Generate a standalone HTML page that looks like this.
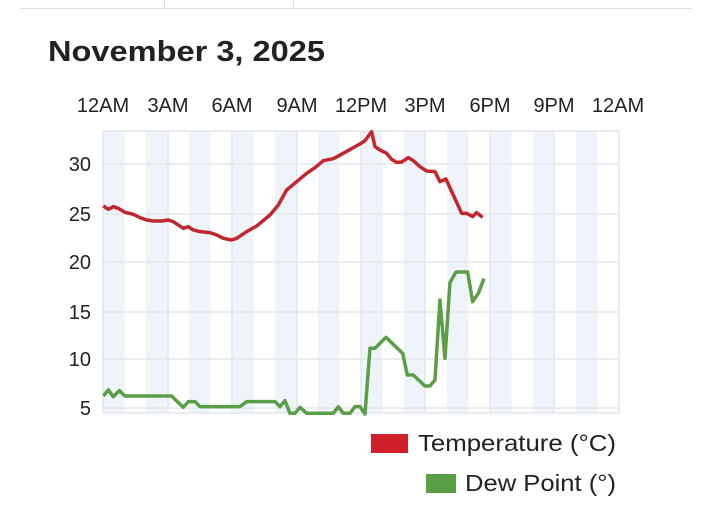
<!DOCTYPE html>
<html><head><meta charset="utf-8"><style>
body{margin:0;background:#fff;width:720px;height:500px;overflow:hidden;font-family:"Liberation Sans",sans-serif;}
</style></head><body>
<svg width="720" height="500" xmlns="http://www.w3.org/2000/svg" font-family="Liberation Sans, sans-serif">
<line x1="20" y1="8.5" x2="692" y2="8.5" stroke="#ddd" stroke-width="1"/>
<line x1="164.5" y1="0" x2="164.5" y2="8" stroke="#ddd"/>
<line x1="293.5" y1="0" x2="293.5" y2="8" stroke="#ddd"/>
<text x="48" y="61" font-size="29" font-weight="bold" fill="#222" textLength="277" lengthAdjust="spacingAndGlyphs">November 3, 2025</text>
<g font-size="20" fill="#222" text-anchor="middle">
<text x="103" y="112">12AM</text><text x="168" y="112">3AM</text><text x="232" y="112">6AM</text>
<text x="297" y="112">9AM</text><text x="361" y="112">12PM</text><text x="425" y="112">3PM</text>
<text x="490" y="112">6PM</text><text x="554" y="112">9PM</text><text x="618" y="112">12AM</text>
</g>
<g fill="#eef4fa">
<rect x="103" y="131" width="21.5" height="282"/><rect x="146" y="131" width="21.5" height="282"/>
<rect x="189" y="131" width="21.5" height="282"/><rect x="232" y="131" width="21.5" height="282"/>
<rect x="275" y="131" width="21.5" height="282"/><rect x="318" y="131" width="21.5" height="282"/>
<rect x="361" y="131" width="21.5" height="282"/><rect x="404" y="131" width="21.5" height="282"/>
<rect x="447" y="131" width="21.5" height="282"/><rect x="490" y="131" width="21.5" height="282"/>
<rect x="533" y="131" width="21.5" height="282"/><rect x="576" y="131" width="21.5" height="282"/>
</g>
<g stroke="#e3e6ea" stroke-width="1.5" fill="none">
<rect x="103" y="131" width="516" height="282"/>
<line x1="168" y1="131" x2="168" y2="413"/><line x1="232" y1="131" x2="232" y2="413"/>
<line x1="297" y1="131" x2="297" y2="413"/><line x1="361" y1="131" x2="361" y2="413"/>
<line x1="425" y1="131" x2="425" y2="413"/><line x1="490" y1="131" x2="490" y2="413"/>
<line x1="554" y1="131" x2="554" y2="413"/>
<line x1="103" y1="164" x2="619" y2="164"/><line x1="103" y1="214" x2="619" y2="214"/>
<line x1="103" y1="262" x2="619" y2="262"/><line x1="103" y1="312" x2="619" y2="312"/>
<line x1="103" y1="359" x2="619" y2="359"/><line x1="103" y1="408" x2="619" y2="408"/>
</g>
<g font-size="20" fill="#222" text-anchor="end">
<text x="91" y="171">30</text><text x="91" y="221">25</text><text x="91" y="269">20</text>
<text x="91" y="319">15</text><text x="91" y="366">10</text><text x="91" y="415">5</text>
</g>
<g transform="translate(90,120) scale(0.3333)" fill="none" stroke-width="10.5" stroke-linejoin="round">
<polyline stroke="#c0282d" points="40,258 55,268 70,260 85,265 105,277 130,283 150,293 170,300 190,303 215,303 235,300 250,305 280,325 295,320 310,330 330,335 360,338 380,345 400,355 425,360 440,355 470,335 500,318 540,285 565,255 590,210 620,185 650,160 675,143 700,122 730,116 760,100 790,83 810,72 825,62 845,35 855,80 870,90 890,100 905,118 920,127 935,126 955,113 970,122 990,140 1010,153 1035,155 1050,185 1068,177 1090,225 1115,280 1130,280 1148,290 1160,278 1178,292"/>
<polyline stroke="#5a9e47" points="40,828 55,810 70,830 88,812 105,828 245,828 265,848 280,862 295,845 315,845 330,860 450,860 470,845 555,845 570,860 585,842 600,880 615,880 630,862 650,880 730,880 745,860 760,880 780,880 795,860 810,860 825,882 840,685 855,685 888,652 938,700 952,765 970,765 1005,798 1020,798 1035,780 1050,540 1065,715 1080,488 1098,456 1133,456 1148,545 1165,520 1182,476"/>
</g>
<rect x="371" y="434" width="37" height="19" fill="#d0212a"/>
<text x="418" y="451" font-size="23" fill="#222" textLength="198" lengthAdjust="spacingAndGlyphs">Temperature (°C)</text>
<rect x="426" y="474" width="30" height="19" fill="#5a9e47"/>
<text x="465" y="491" font-size="23" fill="#222" textLength="151" lengthAdjust="spacingAndGlyphs">Dew Point (°)</text>
</svg>
</body></html>
